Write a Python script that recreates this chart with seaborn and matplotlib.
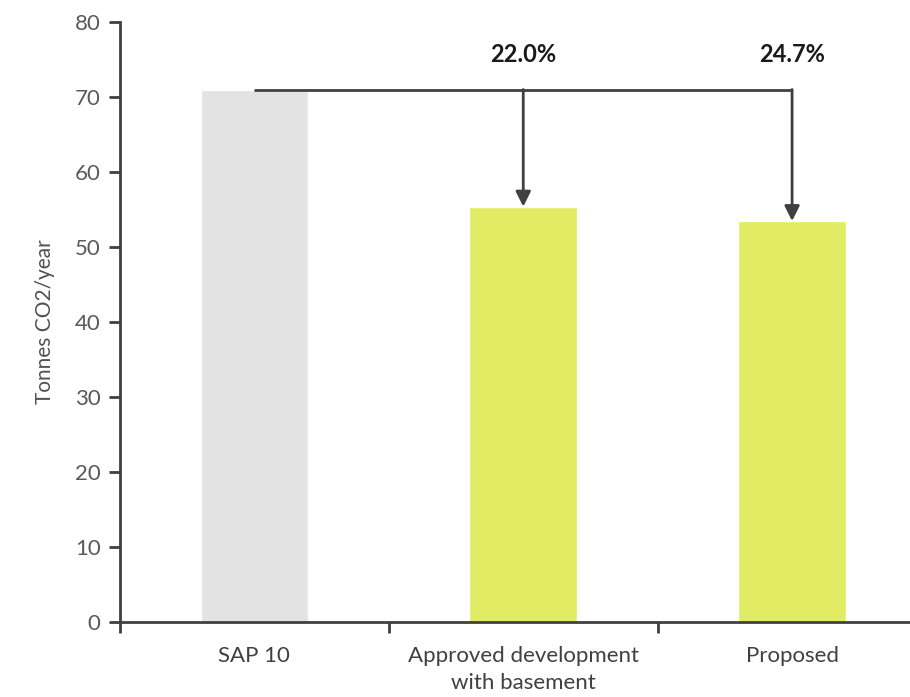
import numpy as np
import pandas as pd
import seaborn as sns
import matplotlib.pyplot as plt

# chart data
categories = ['SAP 10', 'Approved development\nwith basement', 'Proposed']
emissions = [71.0, 55.38, 53.46]
bar_colors = ['#E3E3E3', '#E1EC64', '#E1EC64']
y_ticks = [0, 10, 20, 30, 40, 50, 60, 70, 80]

sns.set_style('white')
plt.rcParams['font.family'] = ['Lato', 'DejaVu Sans']

df = pd.DataFrame({'cat': categories, 'val': emissions})

fig = plt.figure(figsize=(9.1, 6.97), dpi=100)
ax = fig.add_axes([120 / 910, 75 / 697, 806.5 / 910, 600 / 697])

sns.barplot(data=df, x='cat', y='val', hue='cat', palette=bar_colors,
            legend=False, width=0.4, saturation=1, ax=ax)

ax.set_ylim(0, 80)
ax.set_xlim(-0.5, 2.5)
ax.set_yticks(y_ticks)
ax.set_xlabel('')
ax.set_ylabel('Tonnes CO2/year', fontsize=15, color='#505050', labelpad=14)

for s in ['top', 'right']:
    ax.spines[s].set_visible(False)
for s in ['left', 'bottom']:
    ax.spines[s].set_color('#404040')
    ax.spines[s].set_linewidth(2)

ax.tick_params(axis='y', direction='out', length=8, width=2, color='#404040',
               labelsize=16, labelcolor='#595959', pad=6, left=True)
ax.set_xticks([-0.5, 0.5, 1.5, 2.5], minor=True)
ax.tick_params(axis='x', which='minor', direction='out', length=8, width=2,
               color='#404040', bottom=True)
ax.tick_params(axis='x', which='major', length=0, labelsize=16,
               labelcolor='#404040', pad=17)
for lbl in ax.get_xticklabels():
    lbl.set_linespacing(1.45)

# reduction arrows
base = emissions[0]
ax.plot([0, 2], [base, base], color='#404040', lw=2, solid_capstyle='butt',
        zorder=3)
for i in [1, 2]:
    ax.annotate('', xy=(i, emissions[i]), xytext=(i, base),
                arrowprops=dict(arrowstyle='-|>,head_length=0.9,head_width=0.45',
                                color='#404040', lw=2, shrinkA=0, shrinkB=0),
                zorder=3)
    pct = (1 - emissions[i] / base) * 100
    ax.text(i, base + 4.6, f'{pct:.1f}%', ha='center', va='center',
            fontsize=17, fontweight='bold', color='#1a1a1a')

fig.savefig('out.png', dpi=100)
